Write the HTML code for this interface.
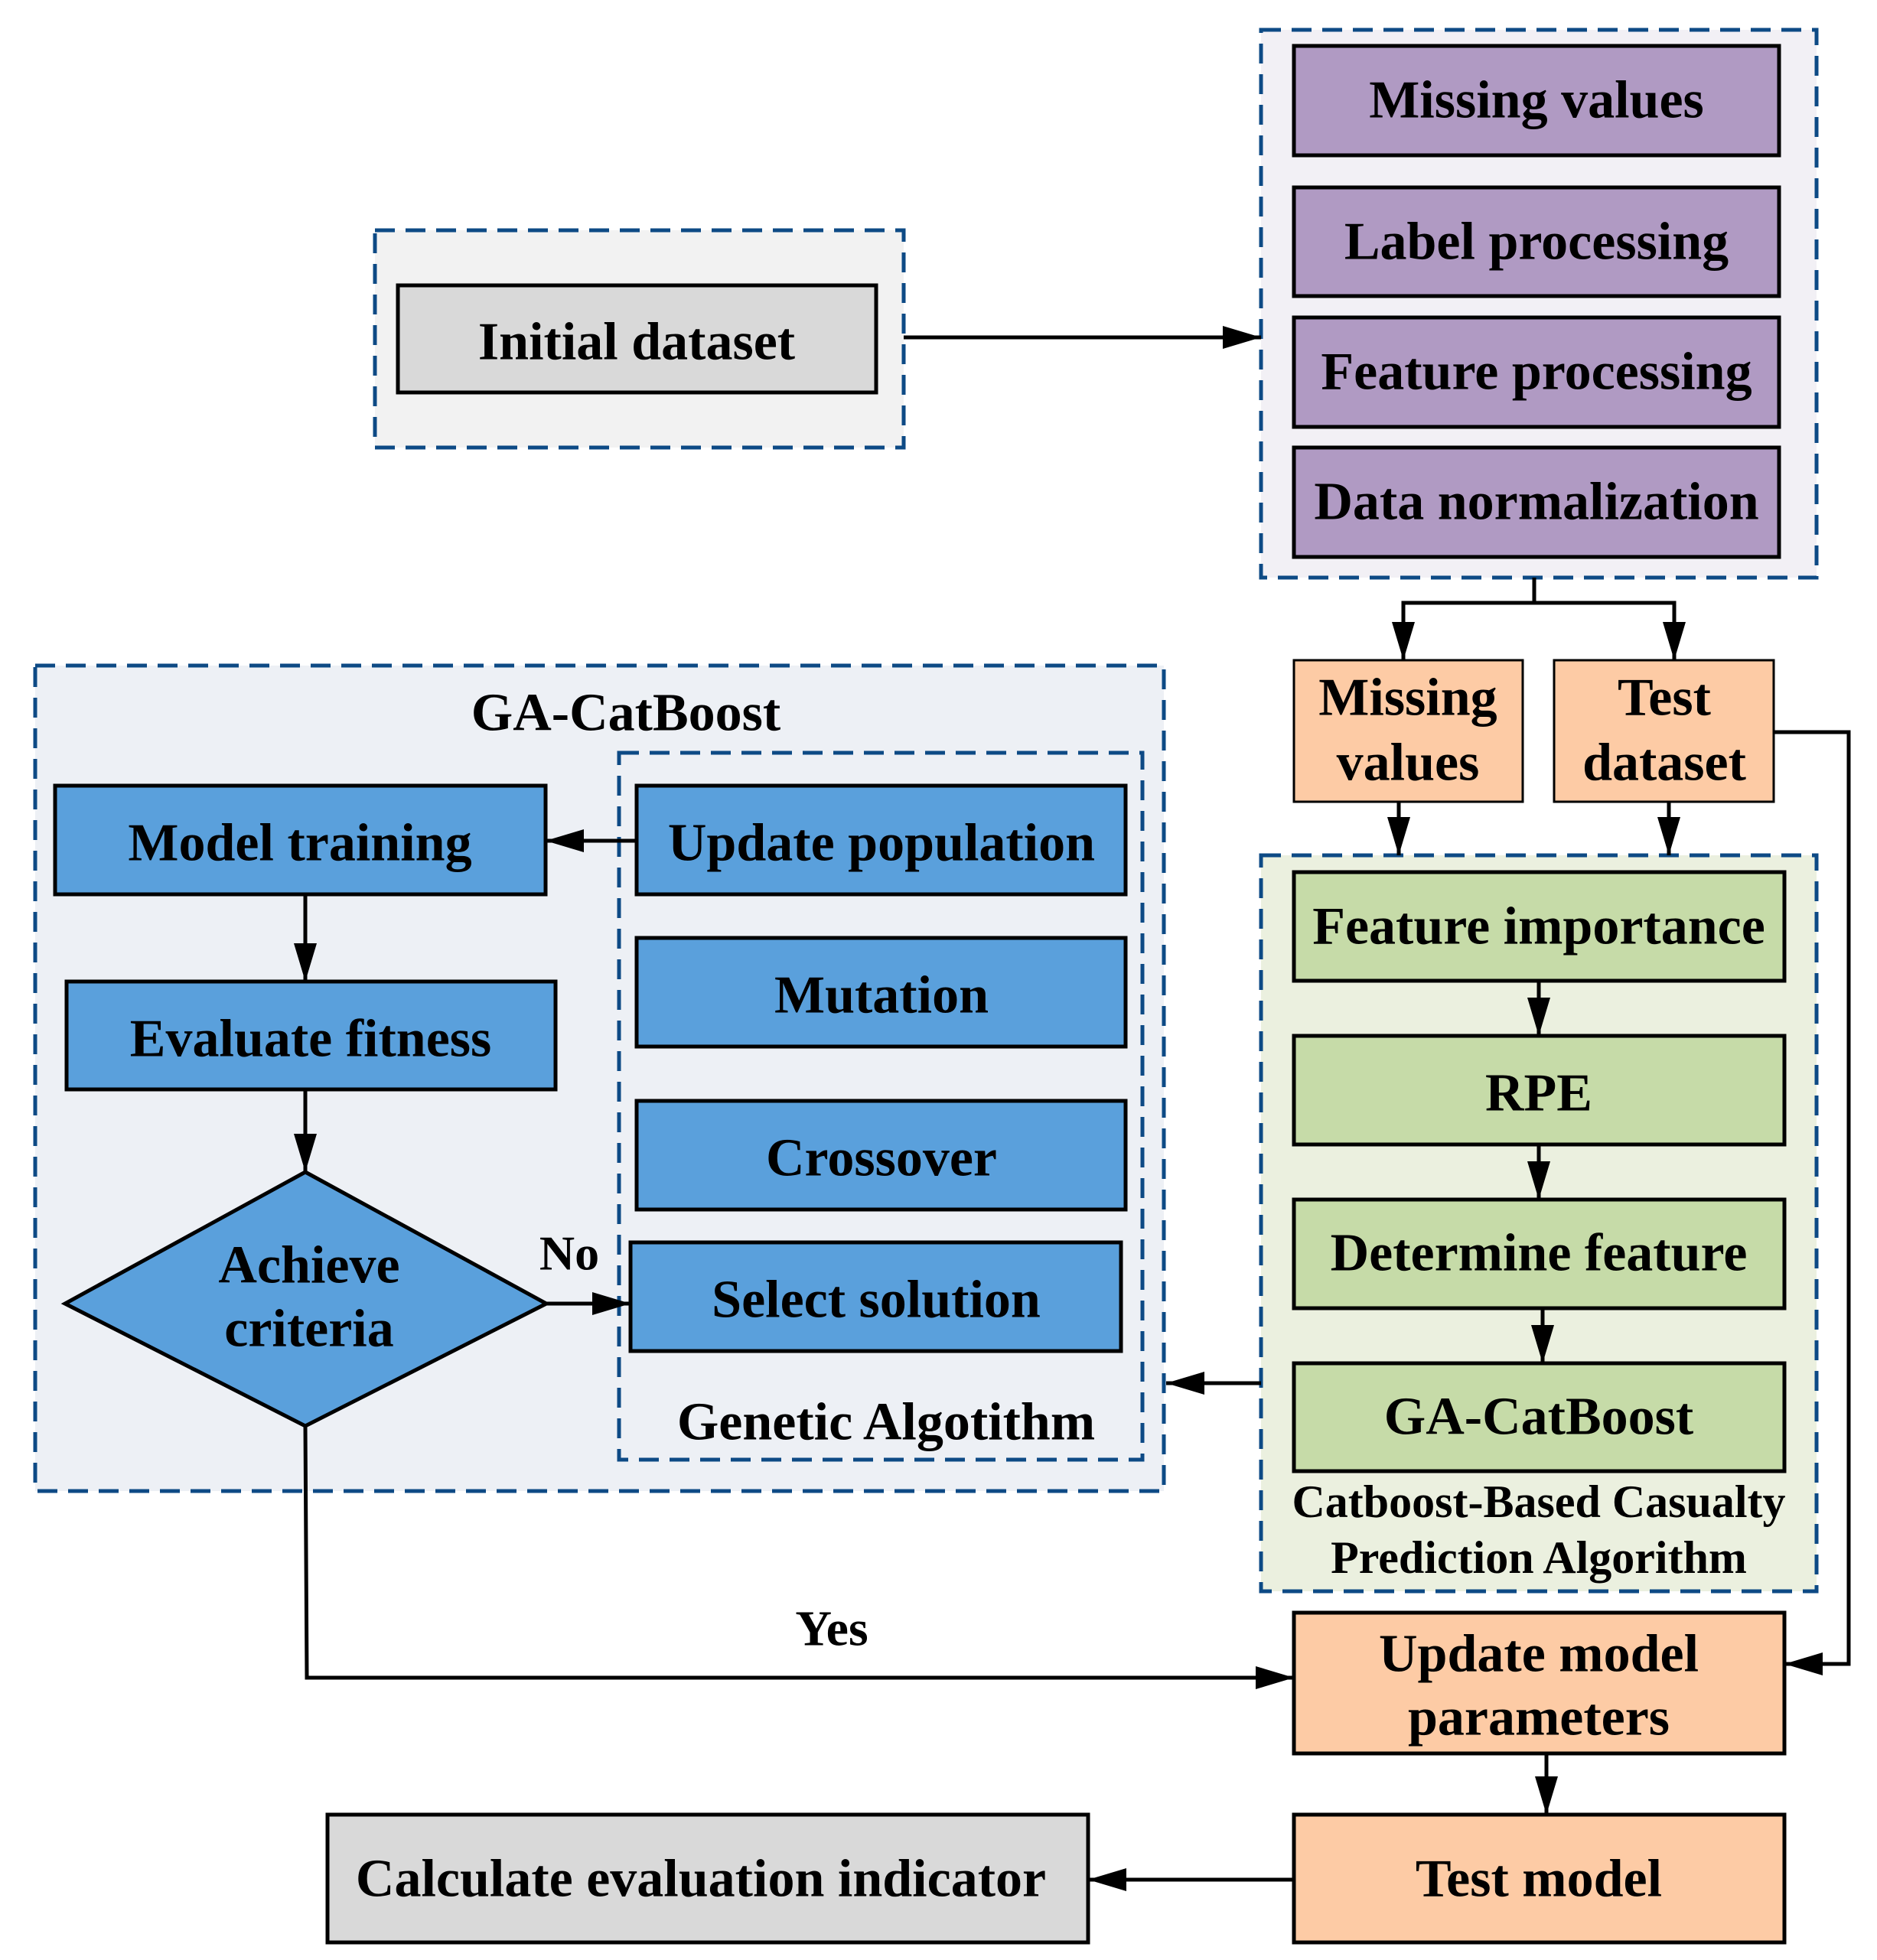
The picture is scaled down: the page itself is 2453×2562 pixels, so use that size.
<!DOCTYPE html>
<html><head><meta charset="utf-8"><style>
html,body{margin:0;padding:0;background:#fff}
svg{display:block}
text{font-family:"Liberation Serif",serif;font-weight:bold;fill:#000;text-anchor:middle;dominant-baseline:central}
.b{stroke:#000;stroke-width:5}
.d{stroke:#0d4a85;stroke-width:5;stroke-dasharray:26 14}
.l{stroke:#000;stroke-width:5;fill:none}
</style></head><body>
<svg width="2453" height="2562" viewBox="0 0 2453 2562" xmlns="http://www.w3.org/2000/svg">
<defs>
<marker id="A" viewBox="0 0 50 30" refX="50" refY="15" markerWidth="50" markerHeight="30" orient="auto" markerUnits="userSpaceOnUse"><path d="M0,0 L50,15 L0,30 z" fill="#000"/></marker></defs>

<rect x="490" y="301" width="691" height="284" fill="#f2f2f2" class="d"/>
<rect x="1648" y="39" width="726" height="716" fill="#f2f0f5" class="d"/>
<rect x="1648" y="1118" width="726" height="962" fill="#ebf0df" class="d"/>
<rect x="46" y="870" width="1475" height="1079" fill="#edf0f5" class="d"/>
<rect x="809" y="984" width="684" height="924" fill="#edf0f5" class="d"/>

<rect x="520" y="373" width="625" height="140" fill="#d9d9d9" class="b"/>
<text x="832" y="447" font-size="70">Initial dataset</text>

<g fill="#b09ac3">
<rect x="1691" y="60" width="634" height="143" class="b"/>
<rect x="1691" y="245" width="634" height="142" class="b"/>
<rect x="1691" y="415" width="634" height="143" class="b"/>
<rect x="1691" y="585" width="634" height="143" class="b"/>
</g>
<text x="2008" y="131" font-size="70">Missing values</text>
<text x="2008" y="316" font-size="70">Label processing</text>
<text x="2008" y="486" font-size="70">Feature processing</text>
<text x="2008" y="656" font-size="70">Data normalization</text>

<rect x="1691" y="863" width="299" height="185" fill="#fdcba5" class="b" style="stroke-width:3"/>
<rect x="2031" y="863" width="287" height="185" fill="#fdcba5" class="b" style="stroke-width:3"/>
<text x="1840" y="912" font-size="70">Missing</text>
<text x="1840" y="997" font-size="70">values</text>
<text x="2175" y="912" font-size="70">Test</text>
<text x="2175" y="997" font-size="70">dataset</text>

<g fill="#c6dba8">
<rect x="1691" y="1140" width="641" height="142" class="b"/>
<rect x="1691" y="1354" width="641" height="142" class="b"/>
<rect x="1691" y="1568" width="641" height="142" class="b"/>
<rect x="1691" y="1782" width="641" height="141" class="b"/>
</g>
<text x="2011" y="1211" font-size="70">Feature importance</text>
<text x="2011" y="1429" font-size="70">RPE</text>
<text x="2011" y="1638" font-size="70">Determine feature</text>
<text x="2011" y="1852" font-size="70">GA-CatBoost</text>
<text x="2011" y="1963" font-size="60">Catboost-Based Casualty</text>
<text x="2011" y="2036" font-size="60">Prediction Algorithm</text>

<text x="818" y="932" font-size="70">GA-CatBoost</text>
<g fill="#5aa0dc">
<rect x="72" y="1027" width="641" height="142" class="b"/>
<rect x="87" y="1283" width="639" height="141" class="b"/>
<rect x="832" y="1027" width="639" height="142" class="b"/>
<rect x="832" y="1226" width="639" height="142" class="b"/>
<rect x="832" y="1439" width="639" height="142" class="b"/>
<rect x="824" y="1624" width="641" height="142" class="b"/>
<polygon points="399,1532 714,1704 399,1864 85,1704" class="b"/>
</g>
<text x="392" y="1102" font-size="70">Model training</text>
<text x="406" y="1358" font-size="70">Evaluate fitness</text>
<text x="1152" y="1102" font-size="70">Update population</text>
<text x="1152" y="1301" font-size="70">Mutation</text>
<text x="1152" y="1514" font-size="70">Crossover</text>
<text x="1145" y="1699" font-size="70">Select solution</text>
<text x="404" y="1654" font-size="70">Achieve</text>
<text x="404" y="1737" font-size="70">criteria</text>
<text x="744" y="1638" font-size="64">No</text>
<text x="1158" y="1859" font-size="70">Genetic Algotithm</text>

<rect x="1691" y="2108" width="641" height="184" fill="#fdcba5" class="b"/>
<rect x="1691" y="2372" width="641" height="167" fill="#fdcba5" class="b"/>
<rect x="428" y="2372" width="994" height="167" fill="#d9d9d9" class="b"/>
<text x="2011" y="2162" font-size="70">Update model</text>
<text x="2011" y="2245" font-size="70">parameters</text>
<text x="2011" y="2456" font-size="70">Test model</text>
<text x="916" y="2456" font-size="70">Calculate evaluation indicator</text>
<text x="1087" y="2129" font-size="66">Yes</text>

<line x1="1181" y1="441" x2="1648" y2="441" class="l" marker-end="url(#A)"/>
<polyline points="2005,755 2005,788 1834,788 1834,863" class="l" marker-end="url(#A)"/>
<polyline points="2005,788 2188,788 2188,863" class="l" marker-end="url(#A)"/>
<line x1="1828" y1="1048" x2="1828" y2="1118" class="l" marker-end="url(#A)"/>
<line x1="2181" y1="1048" x2="2181" y2="1118" class="l" marker-end="url(#A)"/>
<polyline points="2318,957 2416,957 2416,2175 2332,2175" class="l" marker-end="url(#A)"/>
<line x1="2011" y1="1282" x2="2011" y2="1354" class="l" marker-end="url(#A)"/>
<line x1="2011" y1="1496" x2="2011" y2="1568" class="l" marker-end="url(#A)"/>
<line x1="2016" y1="1710" x2="2016" y2="1782" class="l" marker-end="url(#A)"/>
<line x1="1648" y1="1808" x2="1524" y2="1808" class="l" marker-end="url(#A)"/>
<line x1="832" y1="1099" x2="713" y2="1099" class="l" marker-end="url(#A)"/>
<line x1="399" y1="1169" x2="399" y2="1283" class="l" marker-end="url(#A)"/>
<line x1="399" y1="1424" x2="399" y2="1532" class="l" marker-end="url(#A)"/>
<line x1="714" y1="1704" x2="824" y2="1704" class="l" marker-end="url(#A)"/>
<polyline points="399,1864 401,2193 1691,2193" class="l" marker-end="url(#A)"/>
<line x1="2021" y1="2292" x2="2021" y2="2372" class="l" marker-end="url(#A)"/>
<line x1="1691" y1="2457" x2="1422" y2="2457" class="l" marker-end="url(#A)"/>
</svg>
</body></html>
